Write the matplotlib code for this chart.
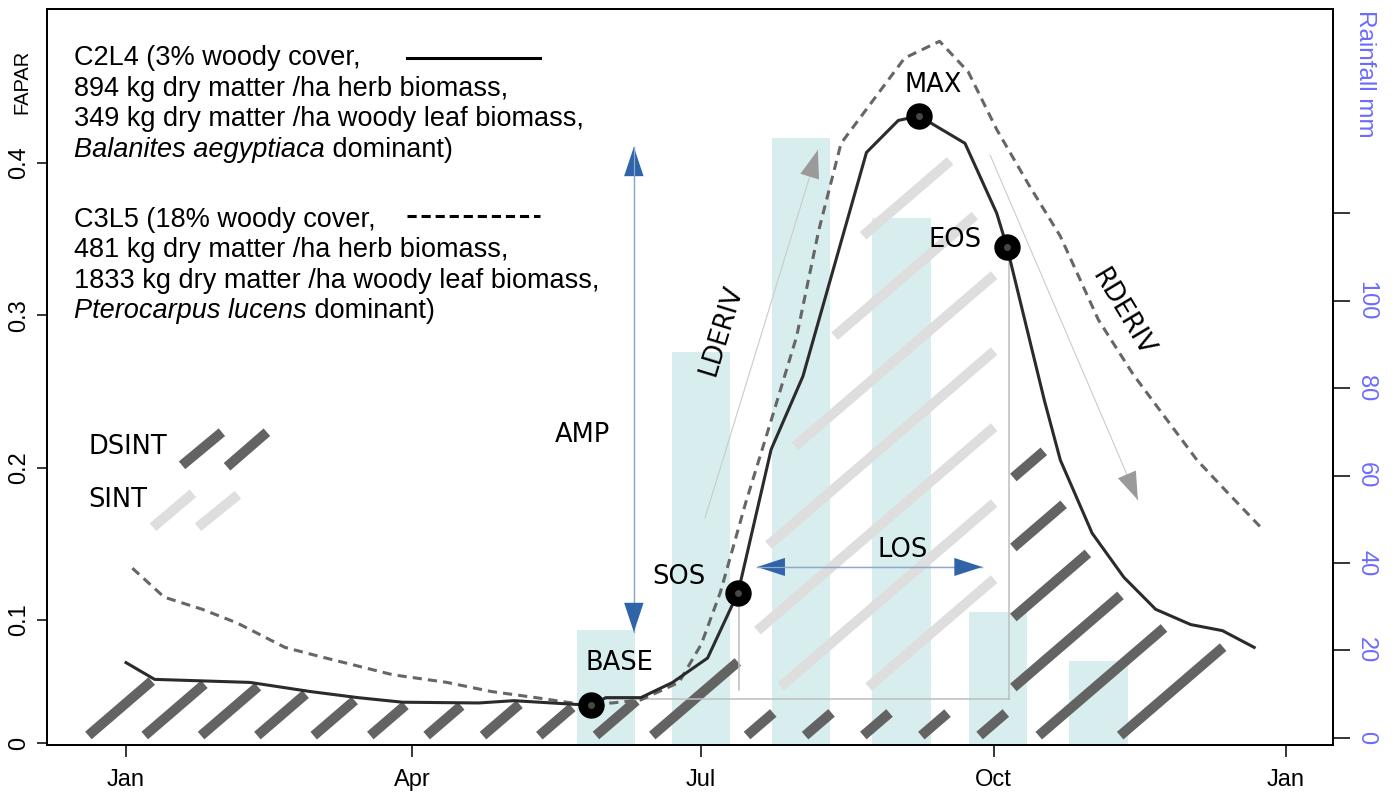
import numpy as np
import matplotlib
matplotlib.use('Agg')
import matplotlib.pyplot as plt
from matplotlib.path import Path

plt.rcParams['font.family'] = ['Liberation Sans', 'DejaVu Sans']

# FAPAR profiles (day of year, FAPAR)
c2l4_day = [0, 9, 39, 58, 73, 87, 111, 122, 142, 146.3, 151, 162, 172, 183, 192.6,
            203, 213, 233, 243, 249.5, 264, 274, 277.2, 289, 294, 304, 314, 324,
            335, 345, 355]
c2l4_fapar = [0.072, 0.061, 0.059, 0.053, 0.049, 0.046, 0.0455, 0.047, 0.0445, 0.044,
              0.049, 0.049, 0.059, 0.075, 0.118, 0.212, 0.260, 0.407, 0.428, 0.431,
              0.413, 0.367, 0.345, 0.244, 0.205, 0.157, 0.128, 0.107, 0.097, 0.093,
              0.082]

c3l5_day = [2, 12, 24, 35, 50, 61, 84, 101, 115, 129, 142, 153, 162, 174, 181, 187,
            195, 203, 211, 218, 225, 245, 256, 265, 274, 284, 294, 306, 317, 337,
            346, 357]
c3l5_fapar = [0.134, 0.115, 0.107, 0.098, 0.082, 0.076, 0.064, 0.059, 0.053, 0.049,
              0.045, 0.0455, 0.0475, 0.059, 0.084, 0.118, 0.177, 0.231, 0.286, 0.356,
              0.413, 0.469, 0.480, 0.460, 0.422, 0.386, 0.352, 0.297, 0.261, 0.205,
              0.185, 0.161]

# monthly rainfall bars
rain_day = [151, 181, 212.5, 244, 274.5, 306]
rain_mm = [24.6, 88.3, 137.2, 118.9, 28.8, 17.6]

month_day = [0, 90, 181, 273, 365]
month_lab = ['Jan', 'Apr', 'Jul', 'Oct', 'Jan']

# phenology metrics on the C2L4 profile
pheno_day = [146.3, 192.6, 249.5, 277.2]
pheno_fapar = [0.044, 0.118, 0.431, 0.345]
base_level = 0.048

fapar_ticks = [0.0192, 0.1, 0.2, 0.3, 0.4]
fapar_labels = ['0', '0.1', '0.2', '0.3', '0.4']
rain_ticks = [0, 20, 40, 60, 80, 100, 120]
rain_labels = ['0', '20', '40', '60', '80', '100', '']

blue_txt = '#6b6bff'
arrow_blue = '#2f64a8'
stem_blue = '#8ea9cd'
dark_h = '#636363'
light_h = '#dedede'

fig = plt.figure(figsize=(13.94, 7.99), dpi=100)
ax = fig.add_axes([47/1394, 1 - 745/799, 1286/1394, 736/799])
ax2 = ax.twinx()
ax.set_zorder(2)
ax.patch.set_visible(False)

ax.set_xlim(-24.86, 379.8)
ax.set_ylim(0.0179, 0.5012)

# rainfall bars (drawn on the lower twin axis)
r0 = -1.67
ax2.bar(rain_day, np.array(rain_mm) - r0, bottom=r0, width=18.3, color='#d8eeee', zorder=1)
ax2.set_ylim(r0, 166.75)
ax2.set_yticks(rain_ticks, rain_labels, rotation=-90, va='center')
ax2.tick_params(axis='y', length=12, width=1.1, labelsize=17, labelcolor=blue_txt, pad=4)

ax.set_yticks(fapar_ticks, fapar_labels, rotation=90, va='center')
ax.tick_params(axis='y', length=7.2, width=1.1, labelsize=17, pad=5)
ax.set_xticks(month_day, month_lab)
ax.tick_params(axis='x', length=8.6, width=1.1, labelsize=17, pad=9)
for a in (ax, ax2):
    for s in a.spines.values():
        s.set_linewidth(1.3)


def hatch(xs, top, bot, c0, step, n, color, trim=0.0, slope=0.86, min_len=25):
    # parallel thick strokes clipped to a region, built in pixel space
    verts = np.column_stack([np.r_[xs, xs[::-1]], np.r_[top, bot[::-1]]])
    region = Path(ax.transData.transform(verts))
    inv = ax.transData.inverted()
    H = fig.bbox.height
    px = np.linspace(0, fig.bbox.width, 5000)
    for k in range(n):
        c = c0 + k * step
        pts = np.column_stack([px, H - c + slope * px])
        idx = np.flatnonzero(region.contains_points(pts))
        if idx.size == 0:
            continue
        for r in np.split(idx, np.flatnonzero(np.diff(idx) > 1) + 1):
            p0, p1 = pts[r[0]].copy(), pts[r[-1]].copy()
            d = p1 - p0
            L = np.hypot(*d)
            if L <= trim + min_len:
                continue
            p1 = p1 - d / L * trim
            a, b = inv.transform(np.array([p0, p1]))
            ax.plot([a[0], b[0]], [a[1], b[1]], color=color, lw=7.2,
                    solid_capstyle='butt', zorder=2)


sos_d, eos_d = pheno_day[1], pheno_day[3]
bottom_v = 0.024

# dark hatch before the season
xl = np.linspace(-12, sos_d, 300)
hatch(xl, np.interp(xl, c2l4_day, c2l4_fapar) - 0.002, np.full_like(xl, bottom_v),
      811.5, 48.5, 11, dark_h)
# dark hatch below base during the season
xm = np.linspace(sos_d, eos_d + 1, 100)
hatch(xm, np.full_like(xm, 0.039), np.full_like(xm, bottom_v), 1378, 50, 5, dark_h, min_len=10)
# dark hatch after the season
xr = np.linspace(eos_d + 2, c2l4_day[-1], 300)
hatch(xr, np.interp(xr, c2l4_day, c2l4_fapar), np.full_like(xr, bottom_v),
      1349, 70, 6, dark_h, trim=15)
# light hatch: seasonal integral above base
xs = np.linspace(sos_d + 6, eos_d - 4, 300)
top = np.array([np.interp(np.linspace(x - 5, x + 5, 21), c2l4_day, c2l4_fapar).min()
                for x in xs]) - 0.010
hatch(xs, top, np.full_like(xs, base_level + 0.008), 978, 76, 7, light_h)

# guide lines
guide = '#bdbdbd'
ax.plot([pheno_day[0], eos_d + 0.5], [base_level, base_level], color=guide, lw=1.1, zorder=3)
ax.plot([eos_d + 0.5, eos_d + 0.5], [pheno_fapar[3], base_level], color=guide, lw=1.1, zorder=3)
ax.plot([sos_d + 0.3, sos_d + 0.3], [pheno_fapar[1], 0.054], color=guide, lw=1.1, zorder=3)


def arrow(tail, tip, stem, head, L=21, W=7, lw=0.9):
    ax.plot([tail[0], tip[0]], [tail[1], tip[1]], color=stem, lw=lw, zorder=3)
    ax.annotate('', xy=tip, xytext=tail,
                arrowprops=dict(arrowstyle=f'-|>,head_length={L},head_width={W}',
                                mutation_scale=1, fc=head, ec=head, lw=0.01,
                                shrinkA=0, shrinkB=0), zorder=3)


amp_day, amp_lo, amp_hi = 159.8, 0.0921, 0.4106
arrow((amp_day, amp_lo), (amp_day, amp_hi), stem_blue, arrow_blue)
arrow((amp_day, amp_hi), (amp_day, amp_lo), stem_blue, arrow_blue)
los_v, los_a, los_b = 0.1348, 198.6, 269.4
arrow((los_b, los_v), (los_a, los_v), stem_blue, arrow_blue, L=20, W=6.5)
arrow((los_a, los_v), (los_b, los_v), stem_blue, arrow_blue, L=20, W=6.5)
arrow((182.2, 0.167), (217.7, 0.4086), '#cccccc', '#9a9a9a', L=20, W=7, lw=0.8)
arrow((271.9, 0.4053), (318.4, 0.1788), '#cccccc', '#9a9a9a', L=20, W=7, lw=0.8)

# FAPAR profiles
ax.plot(c3l5_day, c3l5_fapar, color='#666666', lw=2.2, ls=(0, (3, 2)), zorder=4)
ax.plot(c2l4_day, c2l4_fapar, color='#2b2b2b', lw=2.2, zorder=4)
ax.plot(pheno_day, pheno_fapar, 'o', ms=18, color='black', zorder=5)
ax.plot(pheno_day, pheno_fapar, 'o', ms=4, color='#474747', zorder=6)

lab = dict(fontsize=18.5, family='DejaVu Sans', ha='center', va='center', zorder=6)
ax.text(143.5, 0.2215, 'AMP', **lab)
ax.text(155.4, 0.0718, 'BASE', **lab)
ax.text(174, 0.1282, 'SOS', **lab)
ax.text(244.5, 0.146, 'LOS', **lab)
ax.text(254, 0.4513, 'MAX', **lab)
ax.text(260.9, 0.3495, 'EOS', **lab)
ax.text(187.5, 0.2904, 'LDERIV', rotation=73, **lab)
ax.text(313.7, 0.3016, 'RDERIV', rotation=-59, **lab)

# DSINT / SINT key
ta = ax.transAxes
ax.text(0.0319, 0.4049, 'DSINT', transform=ta, fontsize=18.5, family='DejaVu Sans', va='center')
ax.text(0.0319, 0.333, 'SINT', transform=ta, fontsize=18.5, family='DejaVu Sans', va='center')
for x0, x1, y0, y1, c in [(0.105, 0.136, 0.380, 0.425, dark_h), (0.140, 0.171, 0.378, 0.425, dark_h),
                          (0.0824, 0.1135, 0.296, 0.342, light_h), (0.1174, 0.1485, 0.296, 0.340, light_h)]:
    ax.plot([x0, x1], [y0, y1], color=c, lw=7.2, solid_capstyle='butt', transform=ta, zorder=3)

# series descriptions
lx = 0.021
leg = dict(transform=ta, fontsize=19.5, va='baseline', ha='left', zorder=6)
blocks = [
    (['C2L4 (3% woody cover,', '894 kg dry matter /ha herb biomass,',
      '349 kg dry matter /ha woody leaf biomass,'], 'Balanites aegyptiaca',
     [65, 95.5, 126, 156.7]),
    (['C3L5 (18% woody cover,', '481 kg dry matter /ha herb biomass,',
      '1833 kg dry matter /ha woody leaf biomass,'], 'Pterocarpus lucens',
     [226.7, 257, 287.5, 318]),
]
ital = []
for lines, sp, ys in blocks:
    yy = [(745 - y) / 736 for y in ys]
    for s, y in zip(lines, yy):
        ax.text(lx, y, s, **leg)
    ital.append((ax.text(lx, yy[3], sp, style='italic', **leg), yy[3]))

ax.plot([0.2799, 0.3834], [0.9334, 0.9334], color='black', lw=2.2, transform=ta)
ax.plot([0.2799, 0.3834], [0.7188, 0.7188], color='black', lw=2.2, ls=(0, (3, 1.6)), transform=ta)

fig.canvas.draw()
rend = fig.canvas.get_renderer()
for t, y in ital:
    bb = t.get_window_extent(rend)
    xa = ta.inverted().transform((bb.x1, 0))[0]
    ax.text(xa, y, ' dominant)', **leg)

fig.text(22/1394, 1 - 82/799, 'FAPAR', rotation=90, ha='center', va='center', fontsize=14.5)
fig.text(1365/1394, 1 - 10/799, 'Rainfall mm', rotation=-90, ha='center', va='top',
         fontsize=17.5, color=blue_txt)

fig.savefig('out.png', dpi=100)
